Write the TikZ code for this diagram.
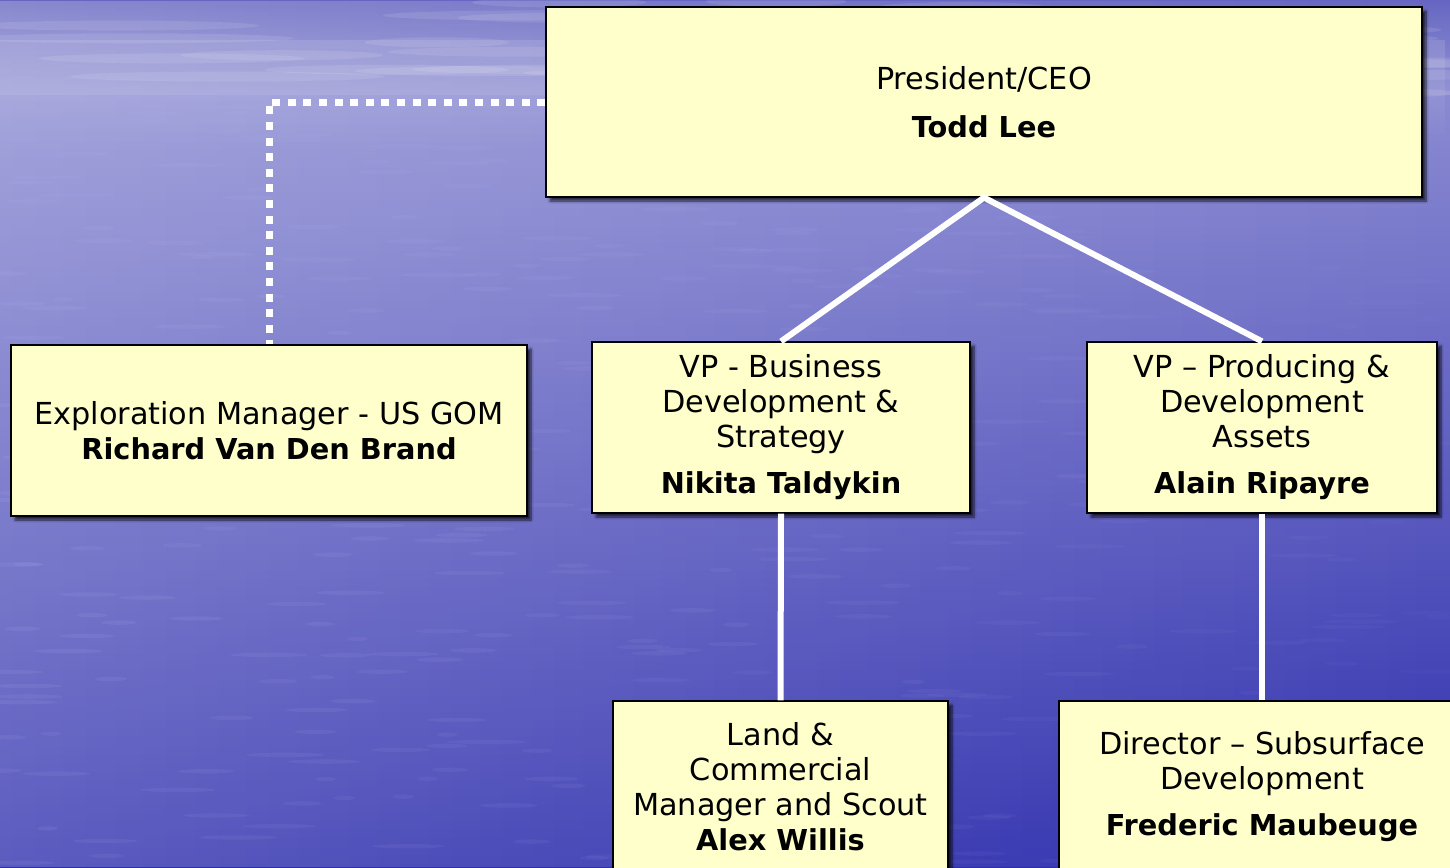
\documentclass[tikz,border=0pt]{standalone}
\usepackage{fontspec}
\setmainfont{DejaVu Sans}
\usetikzlibrary{shadows,shadows.blur,fadings}
\definecolor{boxfill}{HTML}{FFFFCC}
\definecolor{skytop}{HTML}{6666C2}
\definecolor{skylow}{HTML}{9494D4}
\definecolor{seatop}{HTML}{8A8AD2}
\definecolor{seamid}{HTML}{4040B8}
\definecolor{seabot}{HTML}{2E2EAE}
\definecolor{streak}{HTML}{A8A8EC}
\newcommand{\pname}[1]{{\fontsize{28.8}{35}\selectfont\bfseries #1}}
\tikzset{
  orgbox/.style={draw=black, line width=1.2pt, fill=boxfill, rectangle,
    align=center, inner sep=0pt, text=black,
    font=\fontsize{30.3}{35}\selectfont,
    blur shadow={shadow xshift=4pt, shadow yshift=-4pt, shadow blur steps=8, shadow opacity=70}},
  solidlink/.style={draw=white, line width=6pt, line join=miter},
  dotlink/.style={draw=white, line width=7pt, dash pattern=on 8pt off 7.6pt}
}
\begin{document}
\begin{tikzpicture}[x=1pt, y=-1pt]
\path[use as bounding box] (0,0) rectangle (1450,867);
\clip (0,0) rectangle (1450,867);
% background
\shade[top color=skytop, bottom color=skylow] (0,0) rectangle (1450,96);
\shade[top color=seatop, middle color=seamid, bottom color=seabot] (0,95) rectangle (1450,867);
\fill[white, path fading=east, fill opacity=0.22] (0,0) rectangle (1450,867);
\fill[white, path fading=south, fill opacity=0.12] (0,40) rectangle (1450,150);
\pgfmathsetseed{11}
\foreach \i in {1,...,420}{
  \pgfmathsetmacro{\xx}{rnd*1450}
  \pgfmathsetmacro{\yy}{100+rnd*767}
  \pgfmathsetmacro{\ww}{10+rnd*30}
  \pgfmathsetmacro{\oo}{0.04+0.14*(1-\xx/1450)*(1-0.5*(\yy-100)/767)}
  \fill[streak, opacity=\oo] (\xx,\yy) ellipse [x radius=\ww, y radius=2.2];
}
\foreach \i in {1,...,40}{
  \pgfmathsetmacro{\xx}{rnd*1450}
  \pgfmathsetmacro{\yy}{rnd*95}
  \pgfmathsetmacro{\ww}{60+rnd*120}
  \fill[white, opacity=0.10] (\xx,\yy) ellipse [x radius=\ww, y radius=5];
}
% boxes
\node[orgbox, minimum width=876pt, minimum height=190pt] (ceo) at (984,102)
  {President/CEO\\[13pt]\pname{Todd Lee}};
\node[orgbox, minimum width=516pt, minimum height=171pt] (exp) at (269,430.5)
  {Exploration Manager - US GOM\\\pname{Richard Van Den Brand}};
\node[orgbox, minimum width=378pt, minimum height=171pt] (vpbd) at (781,427.5)
  {VP - Business\\Development \&\\Strategy\\[11pt]\pname{Nikita Taldykin}};
\node[orgbox, minimum width=350pt, minimum height=171pt] (vppd) at (1262,427.5)
  {VP – Producing \&\\Development\\Assets\\[11pt]\pname{Alain Ripayre}};
\node[orgbox, minimum width=335pt, minimum height=171pt] (land) at (780.5,786.5)
  {Land \&\\Commercial\\Manager and Scout\\\pname{Alex Willis}};
\node[orgbox, minimum width=406pt, minimum height=171pt] (dir) at (1262,786.5)
  {Director – Subsurface\\Development\\[11pt]\pname{Frederic Maubeuge}};
% connectors
\draw[solidlink] (vpbd.north) -- (ceo.south) -- (vppd.north);
\draw[solidlink] (vpbd.south) -- (land.north);
\draw[solidlink] (vppd.south) -- (dir.north);
\draw[dotlink] (ceo.west) -| (exp.north);
\end{tikzpicture}
\end{document}
